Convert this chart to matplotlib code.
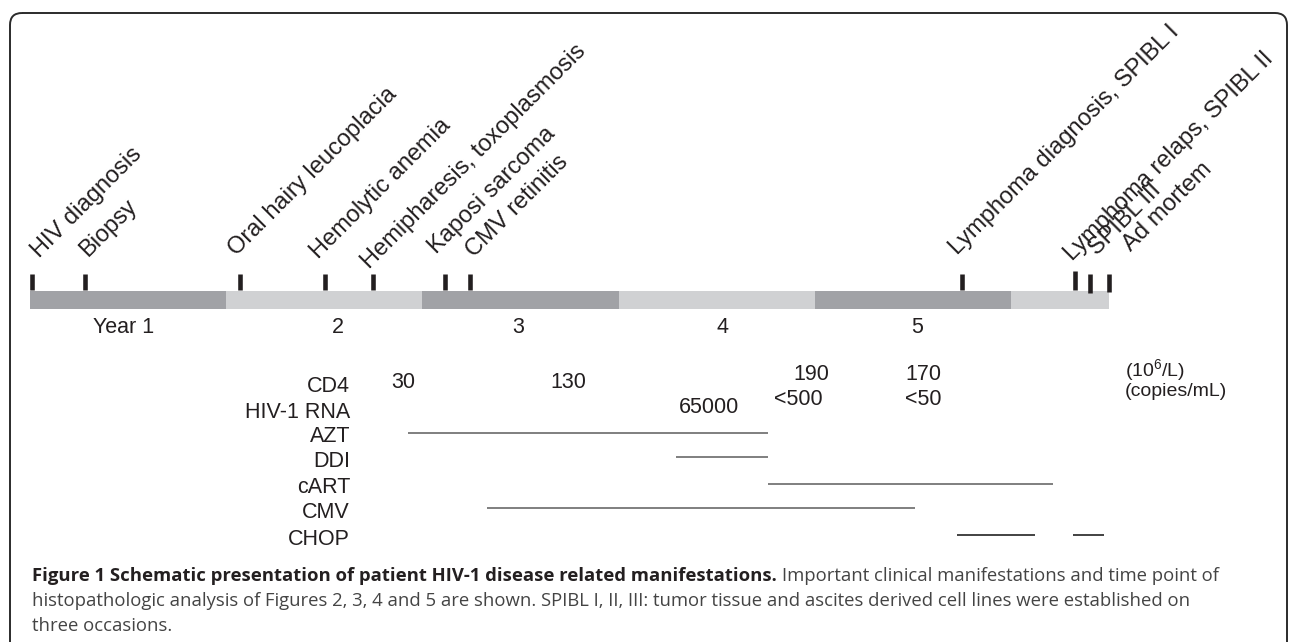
import matplotlib
matplotlib.use("Agg")
import matplotlib.pyplot as plt
from matplotlib.patches import FancyBboxPatch

plt.rcParams["font.family"] = ["Liberation Sans", "DejaVu Sans"]
plt.rcParams["mathtext.fontset"] = "custom"
plt.rcParams["mathtext.rm"] = "Liberation Sans"
plt.rcParams["mathtext.it"] = "Liberation Sans:italic"

# ---- data (x in years since HIV diagnosis) ----
YEAR_BOUNDS = [0, 1, 2, 3, 4, 5, 5.5]
YEAR_LABELS = ["Year 1", "2", "3", "4", "5"]
YEAR_LABEL_X = [0.479, 1.570, 2.487, 3.532, 4.521]

EVENTS = ["HIV diagnosis", "Biopsy", "Oral hairy leucoplacia", "Hemolytic anemia",
          "Hemipharesis, toxoplasmosis", "Kaposi sarcoma", "CMV retinitis",
          "Lymphoma diagnosis, SPIBL I", "Lymphoma relaps, SPIBL II",
          "SPIBL III", "Ad mortem"]
EVENT_X = [0.012, 0.282, 1.070, 1.506, 1.750, 2.115, 2.243, 4.749, 5.325, 5.403, 5.497]

ROW_LABELS = ["CD4", "HIV-1 RNA", "AZT", "DDI", "cART", "CMV", "CHOP"]

CD4_X = [1.901, 2.742, 3.981, 4.551]
CD4_TEXT = ["30", "130", "190", "170"]
RNA_X = [3.461, 3.914, 4.551]
RNA_TEXT = ["65000", "<500", "<50"]
UNITS = [r"(10$^{6}$/L)", "(copies/mL)"]

AZT = [(1.927, 3.761)]
DDI = [(3.293, 3.761)]
CART = [(3.761, 5.214)]
CMV = [(2.329, 4.511)]
CHOP = [(4.725, 5.122), (5.316, 5.474)]
TREATMENTS = [AZT, DDI, CART, CMV, CHOP]

CAPTION_BOLD = "Figure 1 Schematic presentation of patient HIV-1 disease related manifestations."
CAPTION_LINES = ["Important clinical manifestations and time point of",
                 "histopathologic analysis of Figures 2, 3, 4 and 5 are shown. SPIBL I, II, III: "
                 "tumor tissue and ascites derived cell lines were established on",
                 "three occasions."]

# ---- layout (pixel rows, y grows downward) ----
W, H = 1290, 642
X0, PX_YEAR = 30, 196.2
BAR_Y, BAR_H = 300, 18
TICK_TOP = [274, 274, 274, 274, 274, 274, 274, 274, 271, 274, 274]
TICK_BOT = [290, 290, 290, 290, 290, 290, 290, 290, 290, 293, 292]
LABEL_DX = [7.6, 2.7, -3, -7.5, -4.3, -8, 4, -4.7, -2.7, 7, 22.5]
LABEL_DY = [16, 17, 18, 15, 5, 20, 16, 19, 10, 18, 22]
ROW_LABEL_X = 1.631
ROW_BASE = [392, 418, 442, 467, 493, 518, 545]
LINE_Y = [433, 457, 484, 508, 535]
LINE_COLORS = ["#6a6a6a", "#6a6a6a", "#6a6a6a", "#6a6a6a", "#222222"]
CD4_BASE = [388, 388, 380, 380]
RNA_BASE = [413, 405, 405]
UNIT_X = 5.581
UNIT_BASE = [376, 396]
DARK, LIGHT = "#a1a2a6", "#d0d1d3"
INK = "#231f20"
CAP_SIZE = 13.3

fig = plt.figure(figsize=(W / 100, H / 100), dpi=100)

# frame axes in pixel units for the border and caption
frame = fig.add_axes([0, 0, 1, 1])
frame.set_xlim(0, W)
frame.set_ylim(H, 0)
frame.axis("off")
frame.add_patch(FancyBboxPatch((10, 13), 1277, 700, boxstyle="round,pad=0,rounding_size=12",
                               fill=False, lw=1.4, ec="#2b2b2b"))

# chart axes: x in years
ax = fig.add_axes([0, 0, 1, 1])
ax.set_xlim(-X0 / PX_YEAR, (W - X0) / PX_YEAR)
ax.set_ylim(H, 0)
ax.axis("off")

for i, (a, b) in enumerate(zip(YEAR_BOUNDS[:-1], YEAR_BOUNDS[1:])):
    ax.barh(BAR_Y, b - a, left=a, height=BAR_H, color=DARK if i % 2 == 0 else LIGHT,
            edgecolor="none")

for x, lab in zip(YEAR_LABEL_X, YEAR_LABELS):
    ax.text(x, 333, lab, ha="center", va="baseline", fontsize=15.5, color=INK)

ax.vlines(EVENT_X, TICK_TOP, TICK_BOT, colors=INK, lw=3.3)
for x, name, top, dx, dy in zip(EVENT_X, EVENTS, TICK_TOP, LABEL_DX, LABEL_DY):
    ax.annotate(name, xy=(x, top), xytext=(dx, dy), textcoords="offset pixels",
                rotation=45, rotation_mode="anchor", ha="left", va="baseline",
                fontsize=17, color=INK)

for lab, yb in zip(ROW_LABELS, ROW_BASE):
    ax.text(ROW_LABEL_X, yb, lab, ha="right", va="baseline", fontsize=15.5, color=INK)

for x, t, yb in zip(CD4_X, CD4_TEXT, CD4_BASE):
    ax.text(x, yb, t, ha="center", va="baseline", fontsize=15.5, color=INK)
for x, t, yb in zip(RNA_X, RNA_TEXT, RNA_BASE):
    ax.text(x, yb, t, ha="center", va="baseline", fontsize=15.5, color=INK)
for t, yb in zip(UNITS, UNIT_BASE):
    ax.text(UNIT_X, yb, t, ha="left", va="baseline", fontsize=14, color=INK)

for spans, y, c in zip(TREATMENTS, LINE_Y, LINE_COLORS):
    for a, b in spans:
        ax.hlines(y, a, b, colors=c, lw=1.2)

# caption
cap_font = ["Open Sans", "DejaVu Sans"]
bold = frame.text(32, 581, CAPTION_BOLD, ha="left", va="baseline", fontsize=CAP_SIZE,
                  family=cap_font, weight="bold", color="#231f20")
frame.annotate(CAPTION_LINES[0], xy=(1, 0), xycoords=bold, xytext=(5, 0),
               textcoords="offset pixels", ha="left", va="bottom", fontsize=CAP_SIZE,
               family=cap_font, color="#444444")
frame.text(32, 606, CAPTION_LINES[1], ha="left", va="baseline", fontsize=CAP_SIZE,
           family=cap_font, color="#444444")
frame.text(32, 631, CAPTION_LINES[2], ha="left", va="baseline", fontsize=CAP_SIZE,
           family=cap_font, color="#444444")

fig.savefig("out.png", dpi=100)
